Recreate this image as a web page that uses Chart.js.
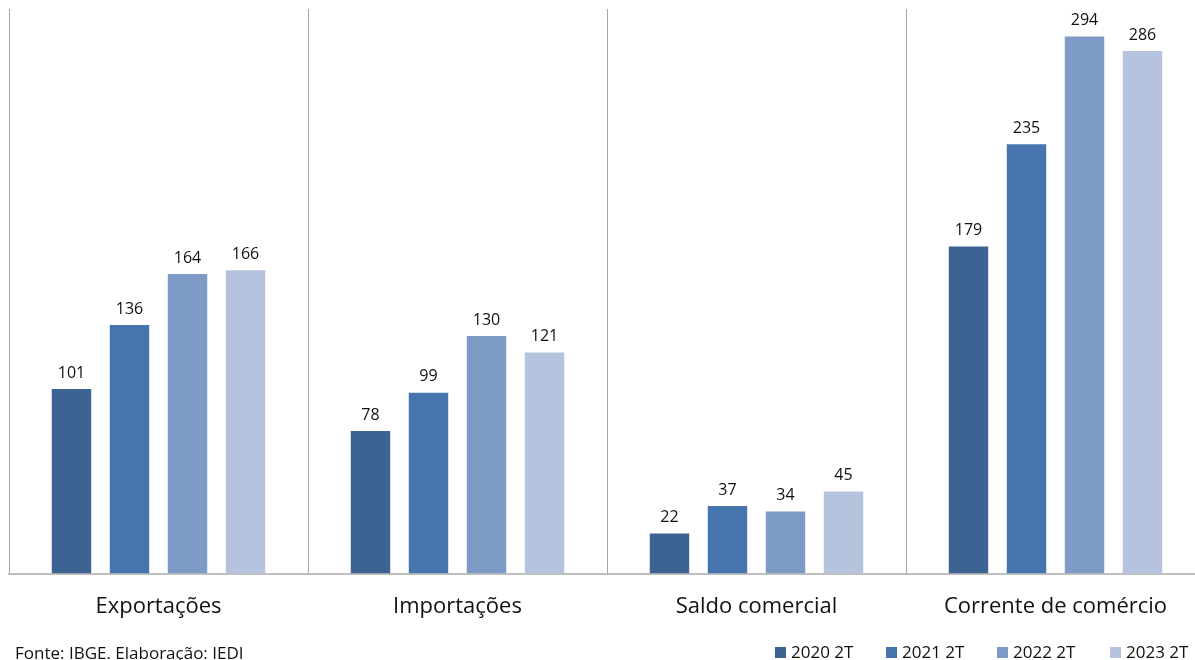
<!DOCTYPE html>
<html>
<head>
<meta charset="utf-8">
<script src="https://cdn.jsdelivr.net/npm/chart.js@4/dist/chart.umd.min.js"></script>
<style>
  html, body { margin: 0; padding: 0; background: #fff; overflow: hidden; width: 1195px; height: 660px; }
  #wrap { position: absolute; left: 0; top: 0; width: 1205px; height: 642px; }
  #fonte { position: absolute; left: 15px; top: 641px; font: 17px "Open Sans", sans-serif; color: #111; }
  #legenda { position: absolute; left: 0; top: 640px; font: 17px "Open Sans", sans-serif; color: #111; }
  #legenda span.item { position: absolute; white-space: nowrap; }
  #legenda i { display: inline-block; width: 11px; height: 11px; margin-right: 5px; vertical-align: 0px; }
</style>
</head>
<body>
<div id="wrap"><canvas id="comercio"></canvas></div>
<div id="fonte">Fonte: IBGE. Elaboração: IEDI</div>
<div id="legenda"></div>
<script>
// categorias e séries (US$ bilhões, 2º trimestre)
const categorias = ['Exportações', 'Importações', 'Saldo comercial', 'Corrente de comércio'];
const series = ['2020 2T', '2021 2T', '2022 2T', '2023 2T'];
const v2020 = [101, 78, 22, 179];
const v2021 = [136, 99, 37, 235];
const v2022 = [164, 130, 34, 294];
const v2023 = [166, 121, 45, 286];
const cores = ['#3c6391', '#4675ad', '#7e9bc8', '#b5c3df'];

const valores = [v2020, v2021, v2022, v2023];

// rótulos de valor em cima das barras
const rotulos = {
  id: 'rotulos',
  afterDatasetsDraw(chart) {
    const ctx = chart.ctx;
    ctx.save();
    ctx.font = '16px "Open Sans", sans-serif';
    ctx.fillStyle = '#111';
    ctx.textAlign = 'center';
    ctx.textBaseline = 'bottom';
    chart.data.datasets.forEach((ds, i) => {
      chart.getDatasetMeta(i).data.forEach((bar, j) => {
        ctx.fillText(ds.data[j], bar.x, bar.y - 8);
      });
    });
    ctx.restore();
  }
};

const graf = new Chart(document.getElementById('comercio'), {
  type: 'bar',
  data: {
    labels: categorias,
    datasets: series.map((s, i) => ({
      label: s,
      data: valores[i],
      backgroundColor: cores[i],
      borderWidth: 0,
      categoryPercentage: 0.776,
      barPercentage: 0.68
    }))
  },
  options: {
    responsive: true,
    maintainAspectRatio: false,
    animation: false,
    layout: { padding: { left: 9, top: 9, right: 0, bottom: 2 } },
    plugins: {
      legend: { display: false },
      tooltip: { enabled: false }
    },
    scales: {
      x: {
        offset: true,
        grid: { offset: true, color: '#a6a6a6', lineWidth: 1, drawTicks: false },
        border: { color: '#bfbfbf', width: 2 },
        ticks: { color: '#111', padding: 20, font: { family: 'Open Sans', size: 22 } }
      },
      y: {
        display: false,
        min: 0,
        max: 309
      }
    }
  },
  plugins: [rotulos]
});

// legenda
const pos = [775, 886, 997, 1110];
const leg = document.getElementById('legenda');
graf.data.datasets.forEach((ds, i) => {
  const it = document.createElement('span');
  it.className = 'item';
  it.style.left = pos[i] + 'px';
  it.innerHTML = '<i style="background:' + ds.backgroundColor + '"></i>' + ds.label;
  leg.appendChild(it);
});
</script>
</body>
</html>
